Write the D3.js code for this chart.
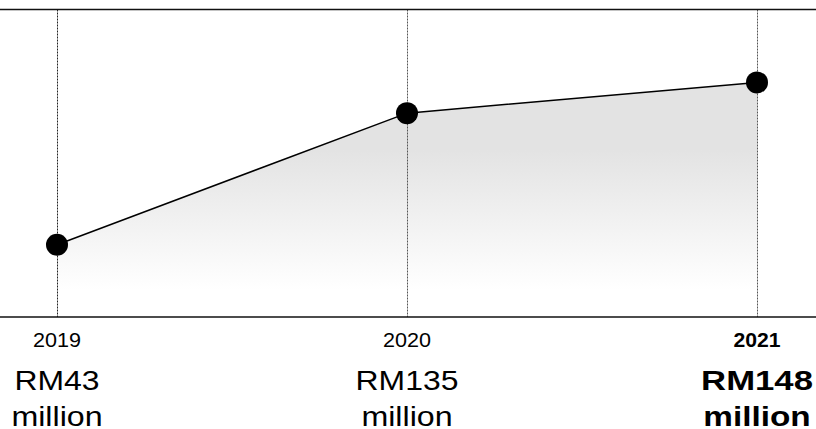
<!DOCTYPE html>
<html>
<head>
<meta charset="utf-8">
<script src="https://cdn.jsdelivr.net/npm/d3@7"></script>
<style>
  html, body { margin: 0; padding: 0; background: #fff; }
  svg { display: block; }
  text { font-family: "Liberation Sans", Arial, Helvetica, sans-serif; fill: #000; }
</style>
</head>
<body>
<svg id="chart" width="816" height="429"></svg>
<script>
// ---- data ----
const years = ["2019", "2020", "2021"];
const revenueRM = [43, 135, 148];            // RM million (labels)
const trendLevel = [23.5, 66.3, 76.3];        // plotted level (0-100 chart scale)
const highlightYear = "2021";

(function () {
  // ---- layout ----
  const W = 816;
  const topY = 9.5, bottomY = 317;
  const svg = d3.select("#chart");

  const x = d3.scalePoint().domain(years).range([57, 757]);
  const y = d3.scaleLinear().domain([0, 100]).range([bottomY, topY]);

  const data = years.map((yr, i) => ({ year: yr, value: revenueRM[i], level: trendLevel[i] }));

  // gradient
  const defs = svg.append("defs");
  const grad = defs.append("linearGradient")
    .attr("id", "areaGrad")
    .attr("gradientUnits", "userSpaceOnUse")
    .attr("x1", 0).attr("x2", 0).attr("y1", 150).attr("y2", 290);
  grad.append("stop").attr("offset", 0).attr("stop-color", "#e3e3e3");
  grad.append("stop").attr("offset", 1).attr("stop-color", "#ffffff");

  // area
  const area = d3.area()
    .x(d => x(d.year))
    .y0(bottomY)
    .y1(d => y(d.level));
  svg.append("path").datum(data)
    .attr("d", area)
    .attr("fill", "url(#areaGrad)");

  // vertical dotted gridlines
  svg.append("g").selectAll("line").data(years).join("line")
    .attr("x1", d => Math.round(x(d)) + 0.5)
    .attr("x2", d => Math.round(x(d)) + 0.5)
    .attr("y1", topY)
    .attr("y2", bottomY)
    .attr("stroke", (d, i) => i === 0 ? "#222" : "#555")
    .attr("stroke-width", 1)
    .attr("stroke-dasharray", "2,1");

  // top and bottom rules
  svg.append("line").attr("x1", 0).attr("x2", W).attr("y1", topY).attr("y2", topY)
    .attr("stroke", "#111").attr("stroke-width", 1.6);
  svg.append("line").attr("x1", 0).attr("x2", W).attr("y1", bottomY).attr("y2", bottomY)
    .attr("stroke", "#111").attr("stroke-width", 1.6);

  // line
  const line = d3.line().x(d => x(d.year)).y(d => y(d.level));
  svg.append("path").datum(data)
    .attr("d", line)
    .attr("fill", "none")
    .attr("stroke", "#000")
    .attr("stroke-width", 1.5);

  // points
  svg.append("g").selectAll("circle").data(data).join("circle")
    .attr("cx", d => x(d.year))
    .attr("cy", d => y(d.level))
    .attr("r", 11)
    .attr("fill", "#000");

  // labels
  const lab = svg.append("g").selectAll("g").data(data).join("g")
    .attr("transform", d => `translate(${x(d.year)},0)`);

  function addText(g, yPos, size, scaleBold, scaleReg, textFn) {
    g.append("text")
      .attr("text-anchor", "middle")
      .attr("font-size", size)
      .attr("font-weight", d => d.year === highlightYear ? "bold" : "normal")
      .attr("transform", d => `translate(0,${yPos}) scale(${d.year === highlightYear ? scaleBold : scaleReg},1)`)
      .text(textFn);
  }
  addText(lab, 347, 20, 1.06, 1.08, d => d.year);
  addText(lab, 390, 28, 1.24, 1.14, d => `RM${d.value}`);
  addText(lab, 426, 28, 1.19, 1.15, d => "million");
})();
</script>
</body>
</html>
